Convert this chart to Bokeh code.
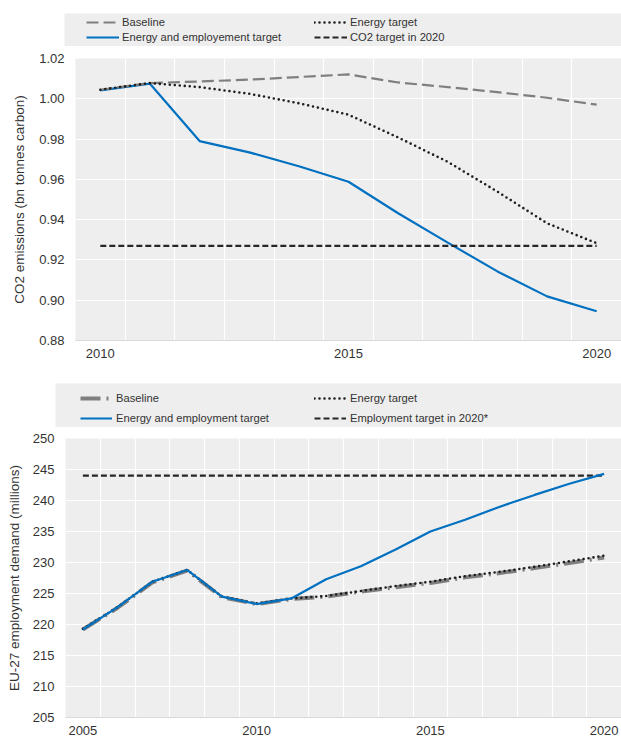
from bokeh.plotting import figure
from bokeh.layouts import column, row
from bokeh.models import (Legend, LegendItem, FixedTicker, PrintfTickFormatter,
                          Range1d, Spacer)
from bokeh.embed import file_html
from bokeh.resources import INLINE

# ---------------- data: CO2 emissions ----------------
years_co2 = [2010, 2011, 2012, 2013, 2014, 2015, 2016, 2017, 2018, 2019, 2020]
baseline_co2 = [1.0045, 1.0078, 1.0086, 1.0095, 1.0108, 1.0121, 1.0081, 1.0058, 1.0033, 1.0005, 0.9971]
energy_co2 = [1.0045, 1.0078, 1.0058, 1.0025, 0.9978, 0.9921, 0.9808, 0.9687, 0.9539, 0.9382, 0.9283]
both_co2 = [1.0042, 1.0075, 0.9790, 0.9734, 0.9665, 0.9588, 0.9432, 0.9286, 0.9143, 0.9019, 0.8945]
co2_target = 0.927
co2_yticks = [0.88, 0.90, 0.92, 0.94, 0.96, 0.98, 1.00, 1.02]
co2_xticks = [2010, 2015, 2020]
co2_labels = ["Baseline", "Energy target", "Energy and employement target", "CO2 target in 2020"]

# ---------------- data: employment ----------------
years_emp = [2005, 2006, 2007, 2008, 2009, 2010, 2011, 2012, 2013, 2014, 2015, 2016, 2017, 2018, 2019, 2020]
baseline_emp = [219.2, 222.7, 226.8, 228.7, 224.4, 223.3, 224.1, 224.5, 225.3, 226.0, 226.7, 227.6, 228.3, 229.1, 229.9, 230.8]
energy_emp = [219.3, 222.8, 226.9, 228.8, 224.5, 223.4, 224.2, 224.6, 225.4, 226.2, 226.9, 227.8, 228.5, 229.3, 230.2, 231.1]
both_emp = [219.2, 222.8, 226.9, 228.8, 224.5, 223.3, 224.2, 227.3, 229.4, 232.1, 235.0, 236.9, 239.0, 240.9, 242.7, 244.3]
emp_target = 244.0
emp_yticks = [205, 210, 215, 220, 225, 230, 235, 240, 245, 250]
emp_xticks = [2005, 2010, 2015, 2020]
emp_labels = ["Baseline", "Energy target", "Energy and employment target", "Employment target in 2020*"]

FONT = "Liberation Sans"
TEXT = "#333333"
BG = "#eeeeee"
BLUE = "#0070c0"
GRAY = "#7f7f7f"
DARK = "#1e1e1e"
TGT = "#262626"

# line styles per series (baseline, energy, both, target)
STYLE_CO2 = [
    dict(line_color=GRAY, line_width=2.2, line_dash="12 5"),
    dict(line_color=DARK, line_width=2.6, line_dash="0 5", line_cap="round"),
    dict(line_color=BLUE, line_width=2.2),
    dict(line_color=TGT, line_width=2.2, line_dash="6 3"),
]
STYLE_EMP = [
    dict(line_color=GRAY, line_width=4, line_dash="20 6 2 6"),
    dict(line_color=DARK, line_width=2.6, line_dash="0 5", line_cap="round"),
    dict(line_color=BLUE, line_width=2.2),
    dict(line_color=TGT, line_width=2.2, line_dash="6 3"),
]


def style(p, xgrid_ticks, yticks, ylabel_standoff, ytitle_standoff, xlabel_standoff):
    p.background_fill_color = BG
    p.border_fill_color = "white"
    p.outline_line_color = None
    for ax in (p.xaxis[0], p.yaxis[0]):
        ax.major_tick_line_color = None
        ax.minor_tick_line_color = None
        ax.major_tick_in = 0
        ax.major_tick_out = 0
        ax.minor_tick_in = 0
        ax.minor_tick_out = 0
        ax.major_label_text_font = FONT
        ax.major_label_text_font_size = "13px"
        ax.major_label_text_color = TEXT
        ax.axis_label_text_font = FONT
        ax.axis_label_text_font_size = "13.5px"
        ax.axis_label_text_font_style = "normal"
        ax.axis_label_text_color = TEXT
    p.xaxis[0].axis_line_color = "#d9d9d9"
    p.xaxis[0].major_label_standoff = xlabel_standoff
    p.yaxis[0].axis_line_color = None
    p.yaxis[0].major_label_standoff = ylabel_standoff
    p.yaxis[0].axis_label_standoff = ytitle_standoff
    p.yaxis[0].ticker = FixedTicker(ticks=yticks)
    p.xgrid[0].ticker = FixedTicker(ticks=xgrid_ticks)
    p.xgrid[0].grid_line_color = "white"
    p.xgrid[0].grid_line_width = 1.2
    p.ygrid[0].grid_line_color = "white"
    p.ygrid[0].grid_line_width = 1.2


def legend_figure(width, height, labels, styles, xs, series, loc, gw, standoff, lw, rowh, spacing):
    # separate small panel holding the legend; the series are drawn far outside
    # its (0..1) x-range so only the legend swatches show
    lf = figure(width=width, height=height, x_range=Range1d(0, 1), y_range=Range1d(0, 1),
                x_axis_location=None, y_axis_location=None,
                output_backend="svg", toolbar_location=None,
                min_border_left=0, min_border_right=0, min_border_top=0, min_border_bottom=0)
    lf.background_fill_color = BG
    lf.border_fill_color = BG
    lf.outline_line_color = None
    lf.grid.visible = False
    items = []
    for lab, st, ys in zip(labels, styles, series):
        r = lf.line(xs, ys, **st)
        items.append(LegendItem(label=lab, renderers=[r]))
    leg = Legend(items=items, location=loc, orientation="horizontal", ncols=2,
                 background_fill_alpha=0, border_line_color=None,
                 padding=0, margin=0, spacing=spacing,
                 glyph_width=gw, glyph_height=rowh, label_height=rowh,
                 label_width=lw, label_standoff=standoff,
                 label_text_font=FONT, label_text_font_size="11.2px",
                 label_text_color=TEXT)
    lf.add_layout(leg)
    return lf


# ---------------- chart 1 ----------------
p1 = figure(width=612, height=320,
            x_range=Range1d(years_co2[0] - 0.5, years_co2[-1] + 0.5),
            y_range=Range1d(co2_yticks[0], co2_yticks[-1]),
            output_backend="svg", toolbar_location=None,
            min_border_left=65, min_border_right=0, min_border_top=12, min_border_bottom=26)
style(p1, [y - 0.5 for y in years_co2] + [years_co2[-1] + 0.5], co2_yticks, 11, 9, 8)
p1.xaxis[0].ticker = FixedTicker(ticks=co2_xticks)
p1.yaxis[0].formatter = PrintfTickFormatter(format="%.2f")
p1.yaxis[0].axis_label = "CO2 emissions (bn tonnes carbon)"

p1.line(years_co2, both_co2, **STYLE_CO2[2])
p1.line(years_co2, baseline_co2, **STYLE_CO2[0])
p1.line(years_co2, energy_co2, **STYLE_CO2[1])
p1.line([years_co2[0], years_co2[-1]], [co2_target, co2_target], **STYLE_CO2[3])

lf1 = legend_figure(557, 33, co2_labels, STYLE_CO2, years_co2,
                    [baseline_co2, energy_co2, both_co2, both_co2],
                    (22, 2), 33, 3, 191, 14, 1)

# ---------------- chart 2 ----------------
p2 = figure(width=621, height=312,
            x_range=Range1d(years_emp[0] - 0.5, years_emp[-1] + 0.5),
            y_range=Range1d(emp_yticks[0], emp_yticks[-1]),
            output_backend="svg", toolbar_location=None,
            min_border_left=65, min_border_right=0, min_border_top=11, min_border_bottom=22)
style(p2, [y - 0.5 for y in years_emp] + [years_emp[-1] + 0.5], emp_yticks, 11, 8, 8)
p2.xaxis[0].ticker = FixedTicker(ticks=emp_xticks)
p2.yaxis[0].axis_label = "EU-27 employment demand (millions)"

p2.line(years_emp, baseline_emp, **STYLE_EMP[0])
p2.line(years_emp, energy_emp, **STYLE_EMP[1])
p2.line([years_emp[0], years_emp[-1]], [emp_target, emp_target], **STYLE_EMP[3])
p2.line(years_emp, both_emp, **STYLE_EMP[2])

lf2 = legend_figure(566, 44, emp_labels, STYLE_EMP, years_emp,
                    [baseline_emp, energy_emp, both_emp, both_emp],
                    (25, 1), 32, 4, 194, 16, 4)

layout = column(
    Spacer(width=621, height=13),
    row(Spacer(width=64, height=33), lf1, spacing=0),
    row(Spacer(width=9, height=320), p1, spacing=0),
    Spacer(width=621, height=17),
    row(Spacer(width=55, height=44), lf2, spacing=0),
    row(p2, spacing=0),
    spacing=0,
)
open("out.html", "w").write(file_html(layout, INLINE))
